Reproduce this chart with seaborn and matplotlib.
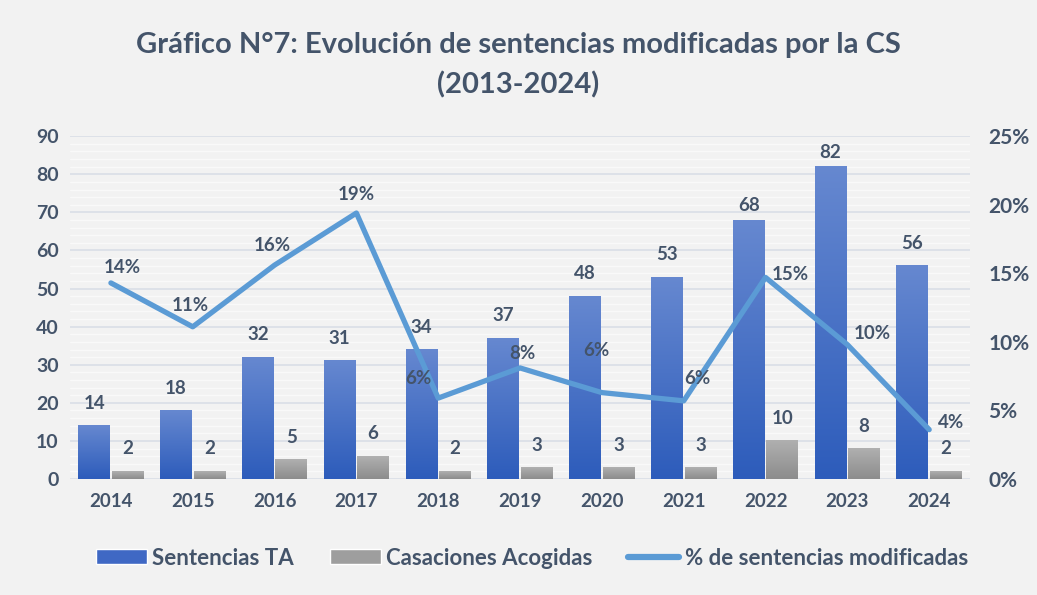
import numpy as np
import pandas as pd
import matplotlib.pyplot as plt
import seaborn as sns
from matplotlib.colors import LinearSegmentedColormap
from matplotlib.lines import Line2D
from matplotlib.patches import Patch

years = ["2014", "2015", "2016", "2017", "2018", "2019", "2020", "2021", "2022", "2023", "2024"]
sentencias_ta = [14, 18, 32, 31, 34, 37, 48, 53, 68, 82, 56]
casaciones = [2, 2, 5, 6, 2, 3, 3, 3, 10, 8, 2]
pct_modificadas = [0.143, 0.111, 0.156, 0.194, 0.059, 0.081, 0.063, 0.057, 0.147, 0.098, 0.036]
pct_labels = ["14%", "11%", "16%", "19%", "6%", "8%", "6%", "6%", "15%", "10%", "4%"]

series_names = ["Sentencias TA", "Casaciones Acogidas"]
line_name = "% de sentencias modificadas"

text_color = "#44546A"
bg = "#F2F2F2"
blue_top, blue_bot = "#6688D0", "#2D5CBB"
gray_top, gray_bot = "#B0B0B0", "#8C8C8C"
line_color = "#5B9BD5"

df = pd.DataFrame({
    "year": years * 2,
    "value": sentencias_ta + casaciones,
    "serie": [series_names[0]] * len(years) + [series_names[1]] * len(years),
})

sns.set_theme(style="white")
plt.rcParams["font.family"] = ["Lato", "DejaVu Sans"]

fig = plt.figure(figsize=(10.37, 5.95), dpi=100, facecolor=bg)
ax = fig.add_axes([0.0675, 0.195, 0.868, 0.576])
ax.set_facecolor(bg)

sns.barplot(data=df, x="year", y="value", hue="serie", hue_order=series_names,
            palette=[blue_bot, gray_bot], width=0.82, gap=0.05, ax=ax,
            legend=False, zorder=2)

# gradient fill over the bars
cmaps = [LinearSegmentedColormap.from_list("b", [blue_bot, blue_top]),
         LinearSegmentedColormap.from_list("g", [gray_bot, gray_top])]
grad = np.linspace(0, 1, 256).reshape(-1, 1)
# label gap above each blue bar (points); Excel squeezed the two tallest ones
blue_gaps = [10, 10, 10, 10, 10, 10, 10, 10, 4, 4, 10]
for k, (cont, cmap, vals) in enumerate(zip(ax.containers, cmaps, [sentencias_ta, casaciones])):
    for j, (bar, v) in enumerate(zip(cont, vals)):
        x0, w, h = bar.get_x(), bar.get_width(), bar.get_height()
        bar.set_facecolor("none")
        bar.set_edgecolor("none")
        ax.imshow(grad, extent=(x0, x0 + w, 0, h), origin="lower", cmap=cmap,
                  aspect="auto", zorder=2)
        gap = blue_gaps[j] if k == 0 else 10
        ax.annotate(str(v), (x0 + w / 2, h), xytext=(0, gap), textcoords="offset points",
                    ha="center", va="bottom", fontsize=13.5, fontweight="bold",
                    color=text_color, zorder=5)
ax.set_xlim(-0.5, len(years) - 0.5)
ax.set_ylim(0, 90)

# grid lines
ax.set_yticks(np.arange(0, 91, 10))
ax.set_yticks(np.arange(0, 91, 2), minor=True)
ax.grid(axis="y", which="major", color="#D9DEE6", linewidth=1.2, zorder=0)
ax.grid(axis="y", which="minor", color="#F9F9F9", linewidth=1.0, zorder=0)
ax.set_axisbelow(True)
for s in ax.spines.values():
    s.set_visible(False)
ax.tick_params(axis="y", which="both", length=0, labelsize=14, labelcolor=text_color, pad=8)
ax.tick_params(axis="x", length=0, labelsize=13.5, labelcolor=text_color, pad=10)
for lab in ax.get_yticklabels() + ax.get_xticklabels():
    lab.set_fontweight("bold")
ax.set_xlabel("")
ax.set_ylabel("")

# percentage line on secondary axis
ax2 = ax.twinx()
sns.lineplot(x=np.arange(len(years)), y=pct_modificadas, ax=ax2, color=line_color,
             linewidth=3.8, zorder=4)
ax2.set_ylim(0, 0.25)
ax2.set_yticks(np.arange(0, 0.26, 0.05))
ax2.set_yticklabels([f"{int(round(t * 100))}%" for t in np.arange(0, 0.26, 0.05)])
ax2.tick_params(axis="y", length=0, labelsize=15, labelcolor=text_color, pad=13)
for lab in ax2.get_yticklabels():
    lab.set_fontweight("bold")
for s in ax2.spines.values():
    s.set_visible(False)
ax2.grid(False)

offsets = [(8, 5), (-2, 9), (-2, 8), (0, 7), (-14, 8), (2, 4), (-4, 24), (10, 10),
           (18, -4), (18, 2), (16, -1)]
for i, (p, lab) in enumerate(zip(pct_modificadas, pct_labels)):
    dx, dy = offsets[i]
    ax2.annotate(lab, (i, p), xytext=(dx, dy), textcoords="offset points",
                 ha="center", va="bottom", fontsize=13.5, fontweight="bold",
                 color=text_color, zorder=6)

fig.text(0.5, 0.925, "Gráfico N°7: Evolución de sentencias modificadas por la CS",
         ha="center", va="center", fontsize=21, fontweight="bold", color=text_color)
fig.text(0.5, 0.857, "(2013-2024)", ha="center", va="center", fontsize=21,
         fontweight="bold", color=text_color)

handles = [Patch(facecolor="#3F68C4", label=series_names[0]),
           Patch(facecolor="#9E9E9E", label=series_names[1]),
           Line2D([0], [0], color=line_color, linewidth=4.5, label=line_name)]
leg = fig.legend(handles=handles, loc="center", bbox_to_anchor=(0.513, 0.062), ncol=3,
                 frameon=False, fontsize=16, handlelength=2.3, handleheight=0.65,
                 columnspacing=1.6, handletextpad=0.25)
for t in leg.get_texts():
    t.set_color(text_color)
    t.set_fontweight("bold")

fig.savefig("out.png", dpi=100, facecolor=bg)
